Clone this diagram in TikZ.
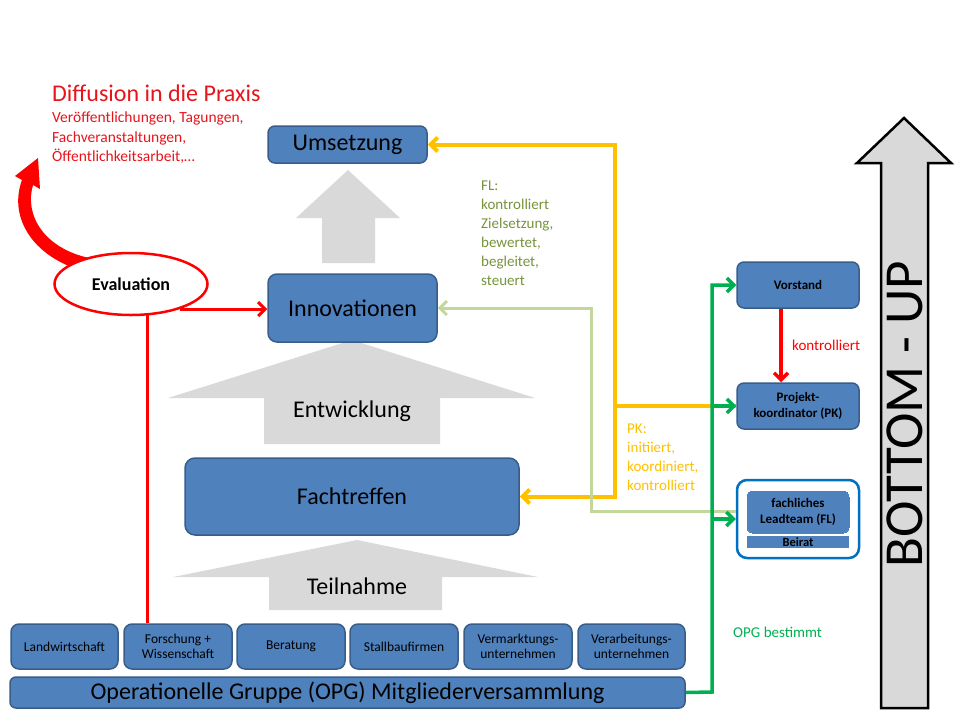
\documentclass[tikz,border=0pt]{standalone}
\usepackage{fontspec}
\setmainfont{Carlito}
\usetikzlibrary{arrows.meta,shapes.geometric,calc}
\definecolor{boxblue}{HTML}{4F81BD}
\definecolor{boxedge}{HTML}{385D8A}
\definecolor{arrgray}{HTML}{D9D9D9}
\definecolor{yel}{HTML}{FFC000}
\definecolor{lgr}{HTML}{C3D69B}
\definecolor{grn}{HTML}{00B050}
\definecolor{olive}{HTML}{77933C}
\definecolor{fred}{HTML}{FF0000}
\definecolor{tred}{HTML}{E8141C}
\definecolor{frameblue}{HTML}{0070C0}
\newcommand{\fsz}[2]{\fontsize{#1}{#2}\selectfont}
\begin{document}
\begin{tikzpicture}[x=1pt,y=-1pt,
  bluebox/.style={draw=boxedge, line width=1.5pt, fill=boxblue, rounded corners=7pt,
    inner sep=0pt, align=center, text=black},
  smallbox/.style={bluebox, minimum height=45pt, rounded corners=8pt, font=\fsz{13.5}{15}},
  sidebox/.style={bluebox, minimum width=122pt, minimum height=46pt, font=\bfseries\fsz{13}{16}},
  conn/.style={line width=3.5pt},
  openarr/.style={-{Straight Barb[length=7pt,width=14pt]}},
  lbl/.style={inner sep=0pt, align=left, anchor=north west}
]
\useasboundingbox (0,0) rectangle (960,720);

% gray process arrows
\fill[arrgray] (348,170) -- (400,218) -- (375,218) -- (375,263) -- (322,263) -- (322,218) -- (296,218) -- cycle;
\fill[arrgray] (352,340) -- (535,398) -- (440,398) -- (440,444) -- (264,444) -- (264,398) -- (168,398) -- cycle;
\fill[arrgray] (357,540) -- (538,577) -- (442,577) -- (442,610) -- (269,610) -- (269,577) -- (173,577) -- cycle;
\node[inner sep=0pt, font=\fsz{24}{28}] (entw) at (352,411) {Entwicklung};
\node[inner sep=0pt, font=\fsz{24}{28}] (teiln) at (357,586) {Teilnahme};

% main boxes
\node[bluebox, minimum width=159pt, minimum height=37pt, font=\fsz{24}{28}] (umsetzung) at (347.5,144.5) {Umsetzung};
\node[bluebox, minimum width=169pt, minimum height=68pt, rounded corners=9pt, font=\fsz{24}{28}] (innov) at (352.5,308) {Innovationen};
\node[bluebox, minimum width=334pt, minimum height=77pt, rounded corners=10pt, font=\fsz{24}{28}] (fachtreffen) at (352,496.5) {Fachtreffen};

% member boxes
\node[smallbox, minimum width=107pt] (landw) at (64.5,646.5) {Landwirtschaft};
\node[smallbox, minimum width=108pt] (forsch) at (178,646.5) {Forschung +\\Wissenschaft};
\node[smallbox, minimum width=108pt] (berat) at (291,646.5) {Beratung};
\node[smallbox, minimum width=108pt] (stall) at (404,646.5) {Stallbaufirmen};
\node[smallbox, minimum width=108pt] (verm) at (518,646.5) {Vermarktungs-\\unternehmen};
\node[smallbox, minimum width=107pt] (verarb) at (631.5,646.5) {Verarbeitungs-\\unternehmen};
\node[bluebox, minimum width=675pt, minimum height=31pt, rounded corners=6pt, font=\fsz{24}{26}] (opg) at (347.5,692.5) {Operationelle Gruppe (OPG) Mitgliederversammlung};

% side boxes
\node[sidebox] (vorstand) at (798,285) {Vorstand};
\node[sidebox] (pk) at (798,406) {Projekt-\\koordinator (PK)};
\node[draw=frameblue, line width=2.5pt, fill=white, rounded corners=10pt, minimum width=122pt, minimum height=78pt, inner sep=0pt] (flouter) at (798,519) {};
\node[bluebox, line width=0pt, draw=boxblue, minimum width=102pt, minimum height=42pt, rounded corners=6pt, font=\bfseries\fsz{13}{16}] (flinner) at (798,512) {fachliches\\Leadteam (FL)};
\node[fill=boxblue, minimum width=102pt, minimum height=12pt, inner sep=0pt, font=\bfseries\fsz{12.5}{12}] (beirat) at (798,542) {Beirat};

% curved diffusion arrow
\fill[fred] (74,268) .. controls (30,252) and (9,215) .. (22,180) -- (15,176) -- (38,158) -- (40,189) -- (33,185)
  .. controls (24,215) and (44,250) .. (94,259) -- cycle;

% evaluation
\node[ellipse, draw=fred, line width=2.5pt, fill=white, minimum width=153pt, minimum height=62pt, inner sep=0pt, font=\bfseries\fsz{18}{20}] (eval) at (131,284) {Evaluation};

% texts
\node[inner sep=0pt, anchor=west, text=tred, font=\fsz{24}{28}] (diff) at (52,93) {Diffusion in die Praxis};
\node[lbl, text=tred, font=\fsz{15.5}{19.5}] (diffsub) at (52,112) {Veröffentlichungen, Tagungen,\\Fachveranstaltungen,\\Öffentlichkeitsarbeit,\dots};
\node[lbl, text=olive, font=\fsz{15}{19}] (fltext) at (481,181) {FL:\\kontrolliert\\Zielsetzung,\\bewertet,\\begleitet,\\steuert};
\node[lbl, text=yel, font=\fsz{15}{19}] (pktext) at (627,424) {PK:\\initiiert,\\koordiniert,\\kontrolliert};
\node[inner sep=0pt, anchor=west, text=fred, font=\fsz{15}{18}] (kontr) at (792,345) {kontrolliert};
\node[inner sep=0pt, anchor=west, text=grn, font=\fsz{15}{18}] (opgbest) at (733,632) {OPG bestimmt};

% connectors: yellow (PK)
\coordinate (yturn) at (615,406);
\draw[yel, line width=4pt] (pk.west) -- (yturn);
\draw[yel, line width=4pt, openarr] (yturn) |- (umsetzung.east);
\draw[yel, line width=4pt, openarr] (yturn) |- (fachtreffen.east);

% light green (FL)
\coordinate (lturn) at (591,511);
\draw[lgr, line width=3pt, openarr] ([yshift=8pt]flouter.west) -- (lturn) |- (innov.east);

% green (OPG)
\coordinate (gcorner) at (712,692);
\draw[grn, conn, openarr] (opg.east) -- (gcorner) |- (vorstand.west);
\draw[grn, conn, openarr] (gcorner |- pk.west) -- (pk.west);
\draw[grn, conn, openarr] (gcorner |- flouter.west) -- (flouter.west);

% red
\draw[fred, conn, openarr] ([xshift=-17pt]vorstand.south) -- ([xshift=-17pt]pk.north);
\draw[fred, line width=3pt, openarr] (eval.-27) -- (eval.-27 -| innov.west);
\draw[fred, line width=3pt] (eval.-62) -- (eval.-62 |- forsch.north);

% bottom-up arrow
\draw[black, line width=2.5pt, fill=arrgray, line join=miter]
  (904,118) -- (951,163) -- (928,163) -- (928,708) -- (881,708) -- (881,163) -- (857,163) -- cycle;
\node[rotate=90, inner sep=0pt, font=\fsz{55}{60}] (bu) at (905,414) {BOTTOM - UP};
\end{tikzpicture}
\end{document}
